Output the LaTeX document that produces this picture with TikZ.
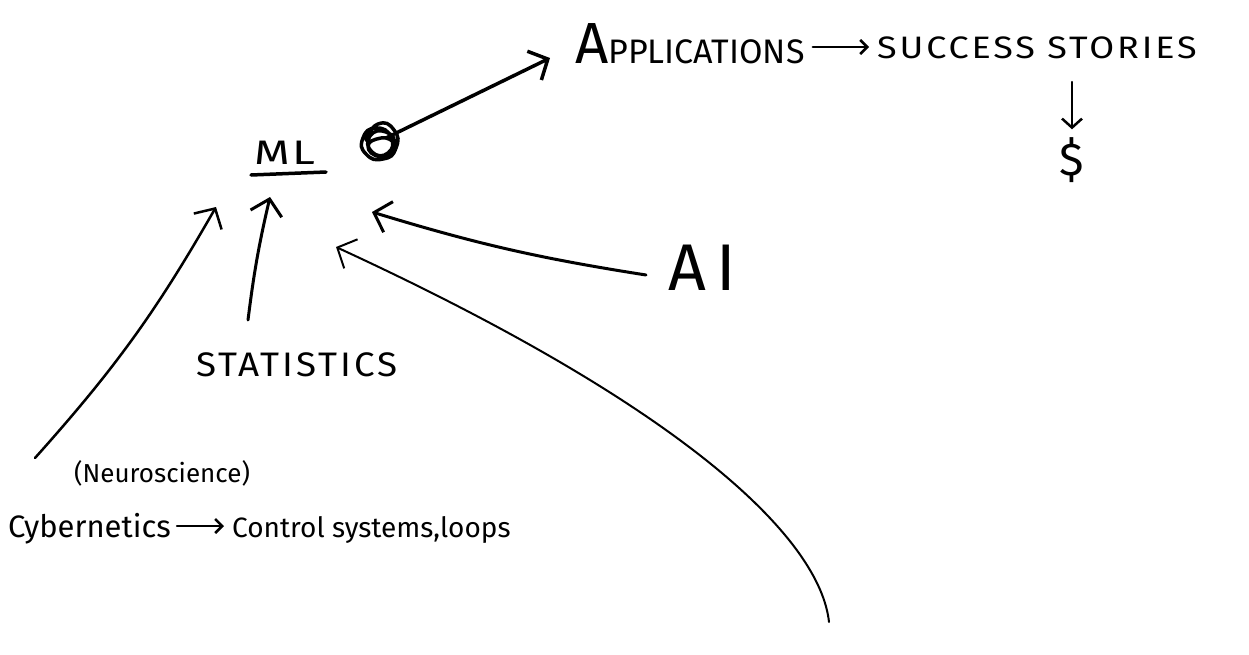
\documentclass[tikz,border=0pt]{standalone}
\usepackage{graphicx}
\usepackage{fontspec}
\setmainfont{Fira Sans}
\usetikzlibrary{arrows.meta}
\newcommand{\penwidth}{3pt}
\newcommand{\fsz}[1]{\fontsize{#1}{#1}\selectfont}
\newcommand{\spread}[1]{\addfontfeature{LetterSpace=#1}}
\newcommand{\widen}[2]{\scalebox{#1}[1]{#2}}

\tikzset{
  word/.style={inner sep=0pt, anchor=base west},
  pen/.style={line width=\penwidth, line cap=round, line join=round},
  arr/.style={pen, -{Straight Barb[length=15pt,width=32pt]}},
  tinyarr/.style={pen, line width=2.5pt, -{Straight Barb[length=7pt,width=14pt]}},
}

\begin{document}
\begin{tikzpicture}[x=1pt,y=-1pt]
  \useasboundingbox (0,0) rectangle (1249,654);
      %%  where ML comes from %%
  \node (ml) at (254,164) [word, font=\fsz{34}\spread{6}] {\widen{1.35}{ML}};
  \draw[pen, line width=3.5pt] ([shift={(-3,11)}]ml.base west) -- ([shift={(72,8)}]ml.base west);

  \node (app) at (575,63) [word] {{\fsz{58}A}{\fsz{34}PPLICATIONS}};
  \node (succ) at (877,58) [word, font=\fsz{31}\spread{8}] {\widen{1.16}{SUCCESS STORIES}};
  \node (dollar) at (1072,160) [font=\fsz{46}, inner sep=0pt] {\$};
  \node (ai) at (668,290) [word, font=\fsz{66}\spread{16}] {AI};
  \node (stat) at (196,376) [word, font=\fsz{34}\spread{8}] {\widen{1.08}{STATISTICS}};
  \node (neuro) at (74,482) [word, font=\fsz{26}] {(Neuroscience)};
  \node (cyb) at (8,537) [word, font=\fsz{31}] {Cybernetics};
  \node (ctrl) at (232,537) [word, font=\fsz{28}] {Control systems,loops};

  % scribbled-out mark next to ML
  \coordinate (scr) at (386,138);
  \draw[pen, line width=3.5pt] plot[smooth, tension=1] coordinates
     {(366,140) (378,124) (394,130) (396,148) (383,159) (366,154) (363,138) (376,128) (391,137) (388,153)
      (372,152) (370,136) (386,132) (394,145) (380,156) (368,146) (381,138) (392,141)};

  \draw[arr, line width=3.5pt] (scr) -- ([shift={(-25,-5)}]app.base west);
  \draw[tinyarr, shorten <=8pt, shorten >=8pt] ([yshift=16pt]app.base east) -- ([yshift=11pt]succ.base west);
  \draw[tinyarr, -{Straight Barb[length=9pt,width=20pt]}] ([shift={(0,24)}]dollar |- succ.base) -- ([yshift=8pt]dollar.north);

  % everything feeding into ML
  \draw[arr] ([shift={(52,-56)}]stat.base west) to[bend left=3] ([shift={(16,33)}]ml.base west);
  \draw[arr, line width=2.5pt] ([shift={(27,-79)}]cyb.base west) to[bend right=6] ([shift={(-38,43)}]ml.base west);
  \draw[arr] ([shift={(-22,-15)}]ai.base west) to[bend left=4] ([shift={(118,48)}]ml.base west);
  \coordinate (loose) at (829,622);
  \draw[arr, line width=2pt] (loose) .. controls (820,540) and (690,410) .. ([shift={(82,83)}]ml.base west);

  \draw[tinyarr, shorten <=6pt, shorten >=8pt] ([yshift=11pt]cyb.base east) -- ([yshift=11pt]ctrl.base west);
\end{tikzpicture}
\end{document}
